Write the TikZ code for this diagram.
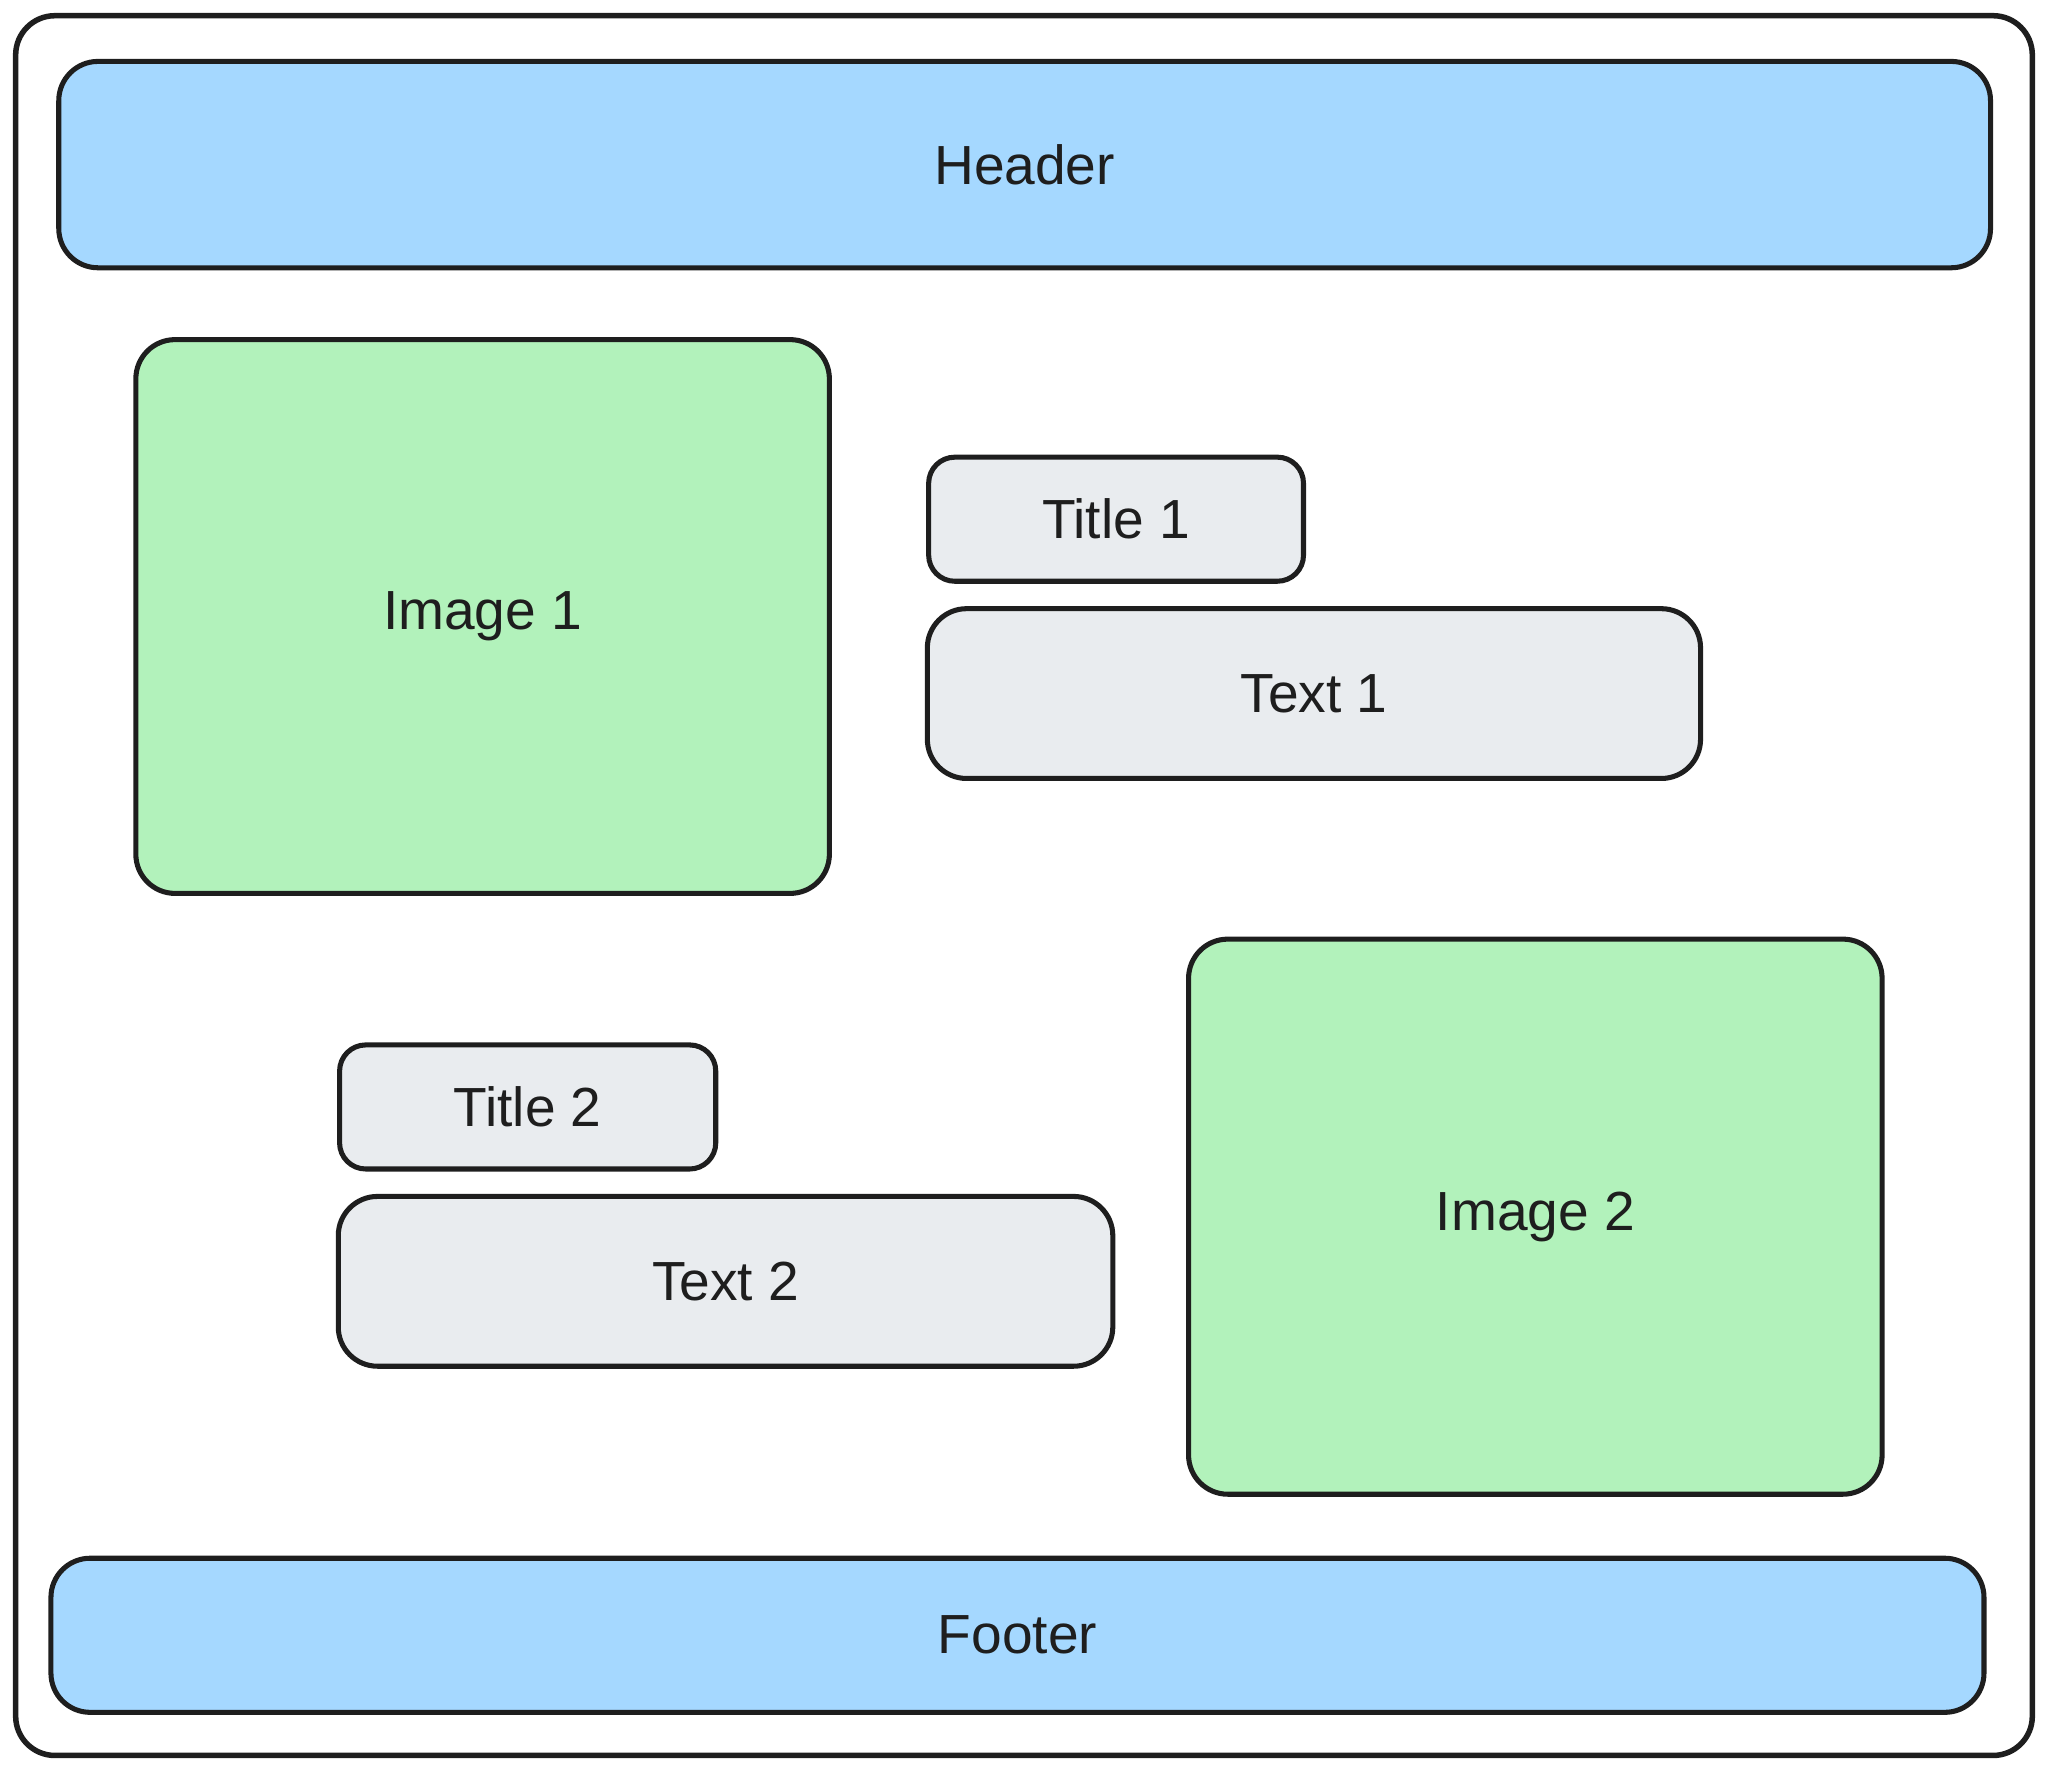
\documentclass[tikz,border=0pt]{standalone}
\usepackage{fontspec}
\setmainfont{Liberation Sans}
\definecolor{hdr}{HTML}{A5D8FF}
\definecolor{img}{HTML}{B2F2BB}
\definecolor{txt}{HTML}{E9ECEF}
\definecolor{ink}{HTML}{1E1E1E}
\begin{document}
\begin{tikzpicture}[x=0.01cm,y=-0.01cm,
  box/.style={draw=ink,line width=1.1pt,rounded corners=0.3cm},
  lbl/.style={font=\fontsize{12}{14}\selectfont,text=ink}]
\useasboundingbox (0,0) rectangle (1568,1356);
\draw[box,line width=1.2pt] (12,12) rectangle (1556,1344);
\draw[box,fill=hdr] (45,47) rectangle (1524,205);
\node[lbl] (header) at (784.5,126) {Header};
\draw[box,fill=img] (104,260) rectangle (635,684);
\node[lbl] (img1) at (369.5,472) {Image 1};
\draw[box,fill=txt,rounded corners=0.2cm] (711,350) rectangle (998,445);
\node[lbl] (t1) at (854.5,397.5) {Title 1};
\draw[box,fill=txt] (710,466) rectangle (1302,596);
\node[lbl] (x1) at (1006,531) {Text 1};
\draw[box,fill=txt,rounded corners=0.2cm] (260,800) rectangle (548,895);
\node[lbl] (t2) at (404,847.5) {Title 2};
\draw[box,fill=txt] (259,916) rectangle (852,1046);
\node[lbl] (x2) at (555.5,981) {Text 2};
\draw[box,fill=img] (910,719) rectangle (1441,1144);
\node[lbl] (img2) at (1175.5,931.5) {Image 2};
\draw[box,fill=hdr] (39,1193) rectangle (1519,1311);
\node[lbl] (footer) at (779,1252) {Footer};
\end{tikzpicture}
\end{document}
